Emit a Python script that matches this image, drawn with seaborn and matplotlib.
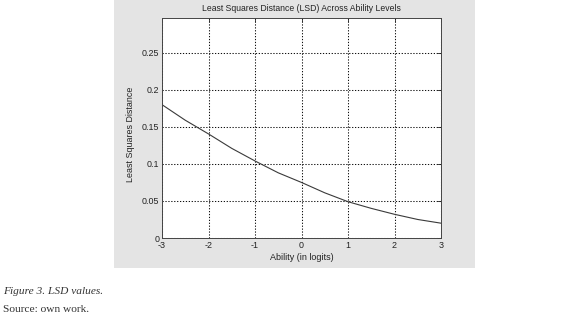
import matplotlib
matplotlib.use("Agg")
import matplotlib.pyplot as plt
import seaborn as sns
import pandas as pd
from matplotlib.patches import Rectangle

ability = [-3.0, -2.5, -2.0, -1.5, -1.0, -0.5, 0.0, 0.5, 1.0, 1.5, 2.0, 2.5, 3.0]
lsd = [0.180, 0.159, 0.1405, 0.121, 0.104, 0.088, 0.075, 0.061, 0.049, 0.040, 0.032, 0.025, 0.020]
x_ticks = [-3, -2, -1, 0, 1, 2, 3]
y_ticks = [0, 0.05, 0.1, 0.15, 0.2, 0.25]
y_tick_labels = ["0", "0.05", "0.1", "0.15", "0.2", "0.25"]

df = pd.DataFrame({"Ability": ability, "LSD": lsd})

sns.set_style("white")
plt.rcParams["font.family"] = ["Liberation Sans", "DejaVu Sans"]

W, H = 580, 321
fig = plt.figure(figsize=(W / 100, H / 100), dpi=100)
fig.patch.set_facecolor("white")

# MATLAB-like grey figure panel
fig.patches.append(Rectangle((114 / W, 1 - 268 / H), (475 - 114) / W, 268 / H,
                             transform=fig.transFigure, facecolor="#e4e4e4",
                             edgecolor="none", zorder=-5))

ax = fig.add_axes([162 / W, 1 - 238 / H, (441 - 162) / W, 220 / H])
ax.set_zorder(2)
ax.set_facecolor("white")
sns.lineplot(data=df, x="Ability", y="LSD", ax=ax, color="#3a3a3a", linewidth=0.8)

ax.set_xlim(-3, 3)
ax.set_ylim(0, 0.297)
ax.set_xticks(x_ticks)
ax.set_xticklabels([str(t) for t in x_ticks])
ax.set_yticks(y_ticks)
ax.set_yticklabels(y_tick_labels)
ax.set_axisbelow(True)
ax.grid(True, linestyle=(0, (1.2, 1.6)), color="#111111", linewidth=0.75)
ax.tick_params(direction="in", length=3, width=0.6, labelsize=6.4,
               top=True, right=True, colors="#222222")
ax.tick_params(axis="x", pad=2)
ax.tick_params(axis="y", pad=2)
for s in ax.spines.values():
    s.set_visible(True)
    s.set_color("#444444")
    s.set_linewidth(0.7)

ax.set_xlabel("Ability (in logits)", fontsize=6.5, labelpad=2, color="#222222")
ax.set_ylabel("Least Squares Distance", fontsize=6.4, labelpad=3, color="#222222")
ax.yaxis.set_label_coords(-0.095, 0.47)
ax.set_title("Least Squares Distance (LSD) Across Ability Levels", fontsize=6.2,
             pad=5, color="#222222")

fig.text(3 / W, 1 - 292 / H, "Figure 3. LSD values.", fontsize=8.2, style="italic",
         family=["Liberation Serif", "DejaVu Serif"], va="center", ha="left", color="#333333")
fig.text(3 / W, 1 - 309 / H, "Source: own work.", fontsize=8.2,
         family=["Liberation Serif", "DejaVu Serif"], va="center", ha="left", color="#333333")

fig.savefig("out.png", dpi=100)
